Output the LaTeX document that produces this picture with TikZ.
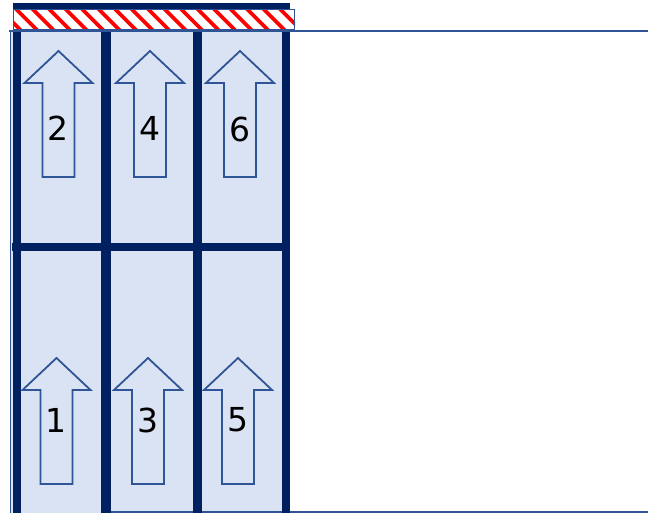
\documentclass[tikz,border=0pt]{standalone}
\usepackage{fontspec}
\setmainfont{DejaVu Sans}
\definecolor{navy}{HTML}{002060}
\definecolor{lightfill}{HTML}{DAE3F3}
\definecolor{edgeblue}{HTML}{2F5597}
\tikzset{
  arrowshape/.style={draw=edgeblue, line width=1.8pt, fill=lightfill, line join=miter},
  barstyle/.style={fill=navy, draw=none},
  numlabel/.style={font=\fontsize{33}{40}\selectfont, text=black, inner sep=0pt},
}
\newcommand\upArrow[2]{%
  \draw[arrowshape, shift={(#1,#2)}] (0,0) -- (34,32) -- (16,32) -- (16,126) -- (-16,126) -- (-16,32) -- (-34,32) -- cycle;}
\begin{document}
\begin{tikzpicture}[x=1pt,y=-1pt]
\useasboundingbox (0,0) rectangle (648,513);
% light blue area
\fill[lightfill] (10,31) rectangle (286,513);
% outline of the big area
\draw[edgeblue, line width=1.8pt] (9,31) -- (648,31);
\draw[edgeblue, line width=1.5pt] (10.5,31) -- (10.5,513);
\draw[edgeblue, line width=1.5pt] (108,511.8) -- (648,511.8);
% top dark bar
\fill[barstyle] (13,3) rectangle (290,9);
% hatched strip
\begin{scope}
  \clip (13,9.5) rectangle (295,30);
  \fill[white] (13,9) rectangle (295,30);
  \foreach \x in {-20,-3.5,...,300} {
    \draw[red, line width=3.8pt] (\x,6) -- (\x+27,33);
  }
\end{scope}
\draw[edgeblue, line width=1.5pt] (13.5,9.5) rectangle (294.5,30);
% dark bars
\fill[barstyle] (13,32) rectangle (21,513);
\fill[barstyle] (101,32) rectangle (111,513);
\fill[barstyle] (193,32) rectangle (202,513);
\fill[barstyle] (282,32) rectangle (290,513);
\fill[barstyle] (12,243) rectangle (290,251);
% arrows
\upArrow{58.5}{51}
\upArrow{150}{51}
\upArrow{240}{51}
\upArrow{56.5}{358}
\upArrow{148}{358}
\upArrow{238}{358}
% labels
\node[numlabel] (n2) at (58,128) {2};
\node[numlabel] (n4) at (150,128) {4};
\node[numlabel] (n6) at (240,129) {6};
\node[numlabel] (n1) at (56,420) {1};
\node[numlabel] (n3) at (148,420) {3};
\node[numlabel] (n5) at (238,420) {5};
\end{tikzpicture}
\end{document}
